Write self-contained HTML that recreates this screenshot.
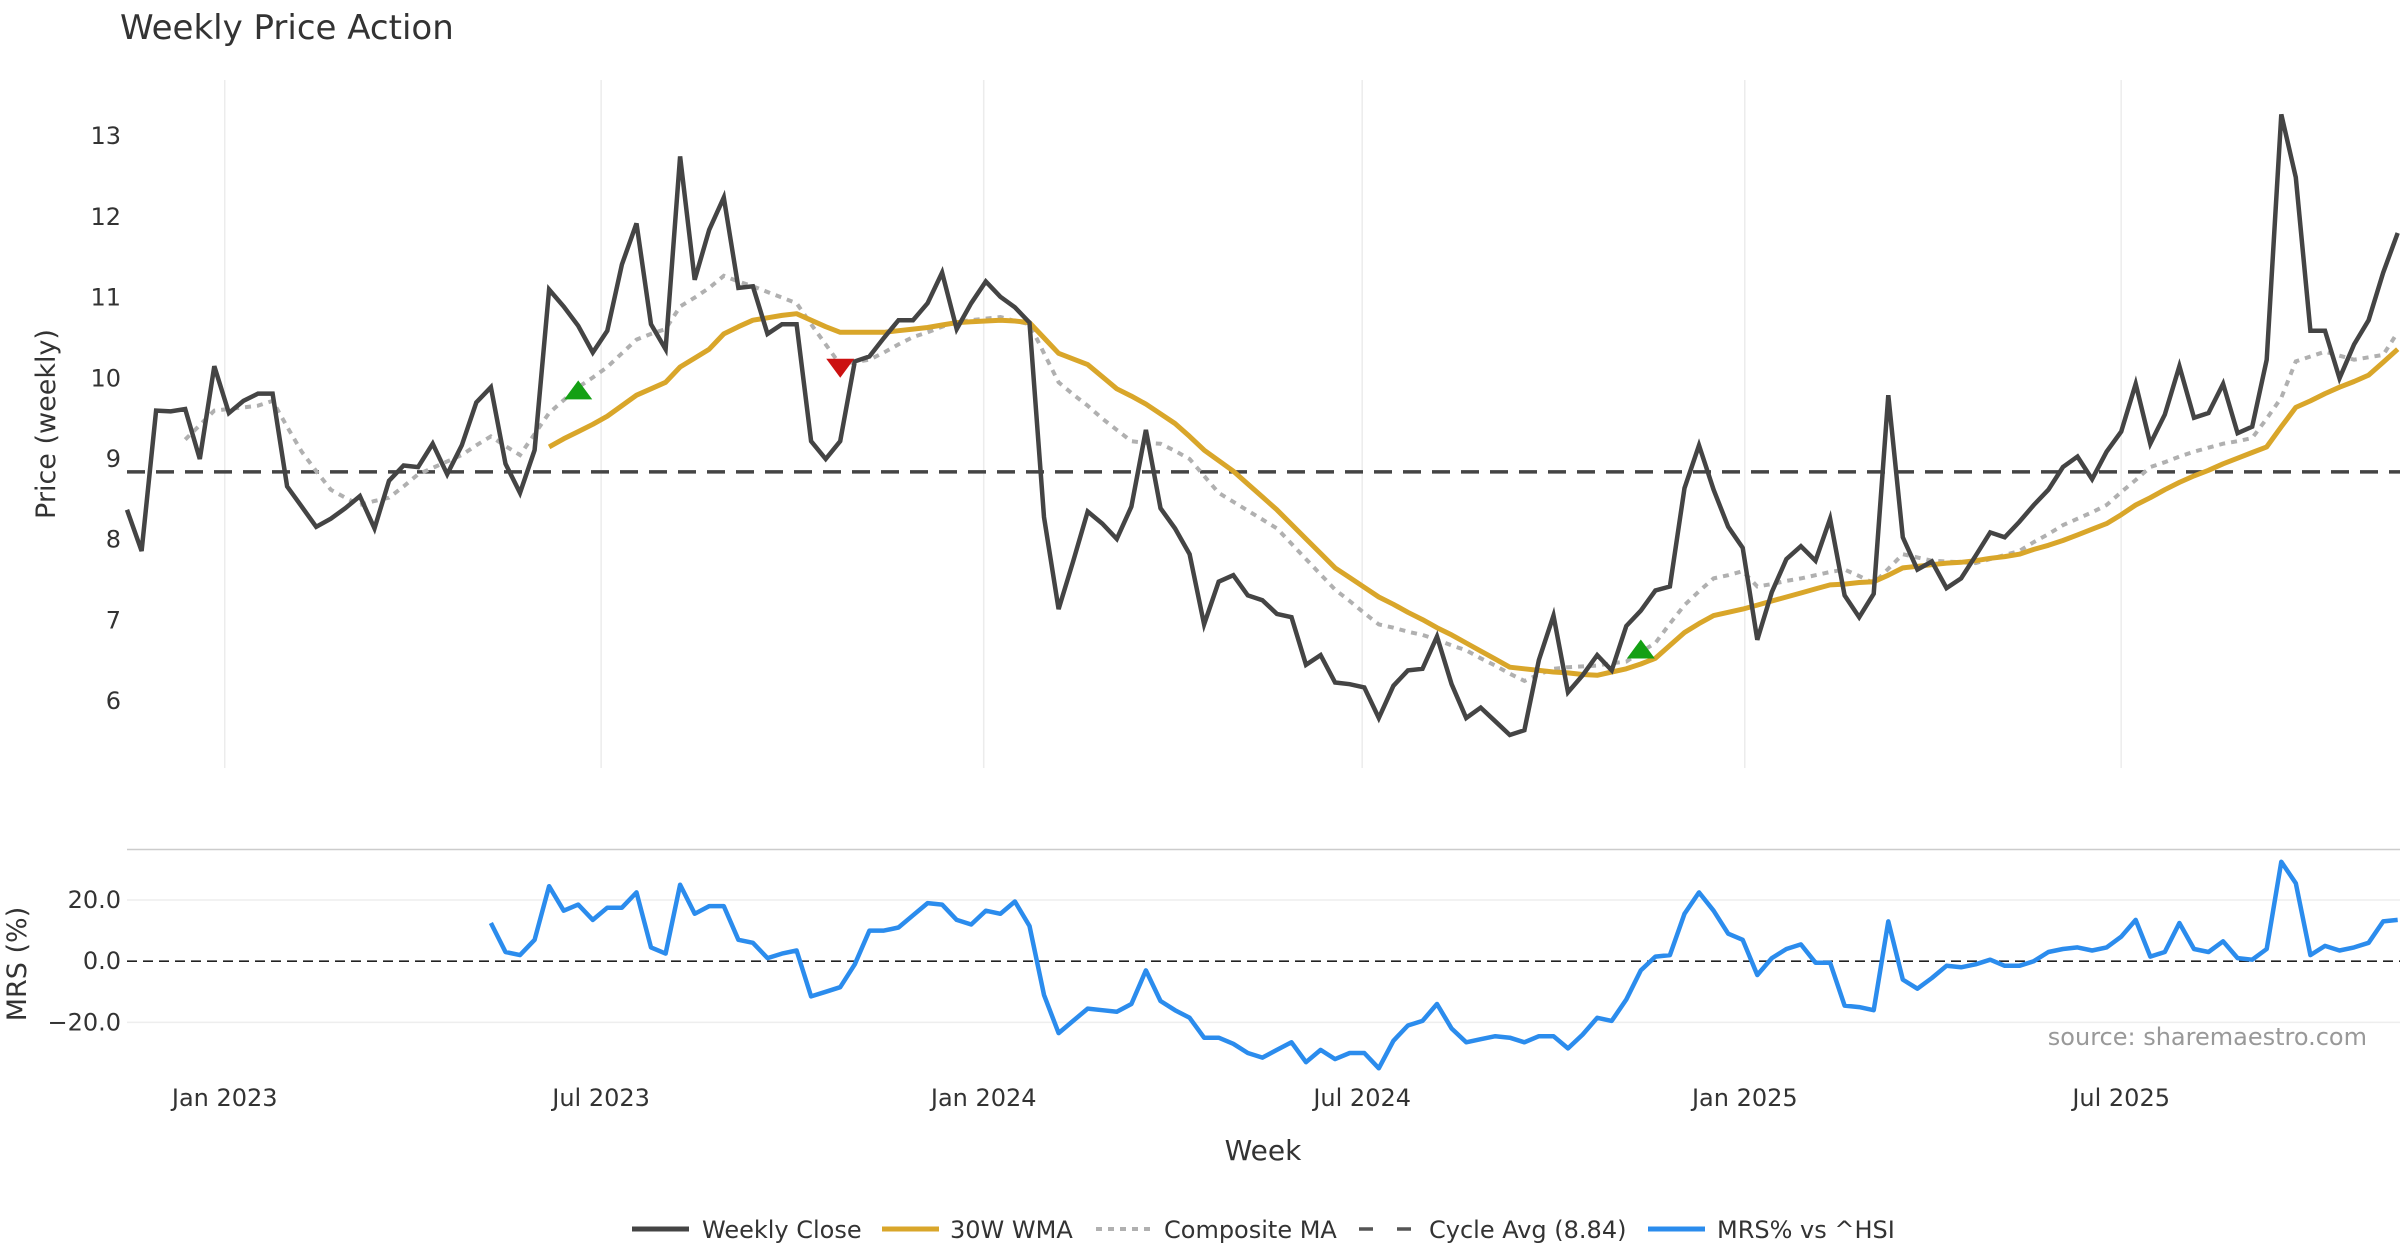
<!DOCTYPE html>
<html><head><meta charset="utf-8"><style>
html,body{margin:0;padding:0;background:#fff;}
svg{display:block;font-family:"DejaVu Sans","Liberation Sans",sans-serif;}
</style></head><body>
<svg id="chart" width="2400" height="1260" viewBox="0 0 2400 1260" xmlns="http://www.w3.org/2000/svg">
<rect width="2400" height="1260" fill="#fff"/>
<text x="120" y="39" font-size="34" fill="#333">Weekly Price Action</text>
<g id="priceGrid"></g>
<g id="mrsGrid"></g>
<line x1="127" x2="2400" y1="849.5" y2="849.5" stroke="#ccc" stroke-width="1.5"/>
<g id="marks"></g>
<g id="axes"></g>
<text transform="translate(55,424) rotate(-90)" text-anchor="middle" font-size="27" fill="#333">Price (weekly)</text>
<text transform="translate(26,964) rotate(-90)" text-anchor="middle" font-size="27" fill="#333">MRS (%)</text>
<text x="1263" y="1160" text-anchor="middle" font-size="28" fill="#333">Week</text>
<text x="2367" y="1045" text-anchor="end" font-size="24" fill="#999">source: sharemaestro.com</text>
<g id="legend"></g>
</svg>
<script>
const startDate = new Date(2022, 10, 15);
const closeValues = [8.37,7.86,9.60,9.59,9.62,9.00,10.15,9.57,9.72,9.81,9.81,8.66,8.41,8.16,8.26,8.39,8.54,8.14,8.73,8.92,8.90,9.19,8.81,9.17,9.70,9.89,8.94,8.58,9.11,11.10,10.89,10.65,10.32,10.59,11.41,11.92,10.67,10.36,12.75,11.22,11.84,12.24,11.12,11.14,10.55,10.67,10.67,9.22,9.00,9.22,10.21,10.27,10.50,10.72,10.72,10.93,11.31,10.61,10.93,11.20,11.01,10.88,10.69,8.28,7.14,7.73,8.35,8.20,8.01,8.41,9.36,8.39,8.14,7.82,6.95,7.48,7.56,7.31,7.25,7.08,7.04,6.45,6.57,6.23,6.21,6.17,5.79,6.19,6.38,6.40,6.80,6.21,5.79,5.92,5.75,5.58,5.64,6.51,7.06,6.11,6.32,6.57,6.38,6.93,7.12,7.37,7.42,8.64,9.17,8.62,8.16,7.90,6.76,7.35,7.76,7.92,7.74,8.26,7.31,7.04,7.33,9.79,8.03,7.63,7.73,7.40,7.52,7.80,8.09,8.03,8.22,8.43,8.62,8.90,9.03,8.75,9.09,9.34,9.93,9.19,9.55,10.15,9.51,9.57,9.93,9.32,9.40,10.23,13.27,12.49,10.59,10.59,10.00,10.42,10.72,11.31,11.80];
const wmaStart = 29;
const wmaValues = [9.15,9.25,9.34,9.43,9.53,9.66,9.79,9.87,9.95,10.14,10.25,10.36,10.55,10.64,10.72,10.75,10.78,10.80,10.72,10.64,10.57,10.57,10.57,10.57,10.59,10.61,10.63,10.66,10.69,10.70,10.71,10.72,10.71,10.69,10.50,10.31,10.24,10.17,10.02,9.87,9.78,9.68,9.56,9.44,9.28,9.11,8.98,8.85,8.69,8.53,8.37,8.19,8.01,7.83,7.65,7.53,7.41,7.29,7.20,7.10,7.01,6.91,6.82,6.72,6.62,6.52,6.42,6.40,6.38,6.36,6.35,6.33,6.32,6.36,6.40,6.46,6.53,6.69,6.85,6.96,7.06,7.10,7.14,7.19,7.24,7.29,7.34,7.39,7.44,7.45,7.47,7.48,7.56,7.65,7.67,7.69,7.71,7.72,7.74,7.77,7.79,7.82,7.88,7.93,7.99,8.06,8.13,8.20,8.31,8.43,8.52,8.62,8.71,8.79,8.86,8.94,9.01,9.08,9.15,9.40,9.64,9.72,9.81,9.89,9.96,10.04,10.20,10.36];
const compStart = 4;
const compValues = [9.24,9.42,9.60,9.62,9.64,9.66,9.72,9.40,9.09,8.85,8.62,8.52,8.43,8.48,8.52,8.66,8.81,8.89,8.97,9.05,9.17,9.28,9.16,9.05,9.31,9.57,9.73,9.89,10.01,10.14,10.31,10.48,10.55,10.61,10.89,11.00,11.12,11.27,11.20,11.14,11.07,11.00,10.93,10.67,10.42,10.17,10.20,10.23,10.32,10.42,10.51,10.57,10.64,10.70,10.72,10.74,10.76,10.71,10.67,10.31,9.95,9.80,9.66,9.50,9.36,9.22,9.20,9.19,9.10,9.00,8.79,8.58,8.47,8.36,8.25,8.14,7.95,7.76,7.57,7.38,7.24,7.09,6.95,6.91,6.86,6.82,6.76,6.69,6.63,6.53,6.44,6.34,6.25,6.33,6.40,6.42,6.43,6.44,6.47,6.49,6.61,6.72,6.96,7.19,7.36,7.52,7.56,7.61,7.42,7.45,7.49,7.52,7.56,7.60,7.63,7.55,7.46,7.64,7.82,7.78,7.74,7.73,7.72,7.71,7.76,7.81,7.86,7.97,8.07,8.18,8.26,8.34,8.43,8.59,8.74,8.90,8.96,9.03,9.09,9.14,9.19,9.22,9.26,9.50,9.76,10.21,10.27,10.33,10.28,10.23,10.26,10.29,10.57];
const mrsStart = 25;
const mrsValues = [12.5,3,2,7,24.5,16.5,18.5,13.5,17.5,17.5,22.5,4.5,2.5,25,15.5,18,18,7,6,1,2.5,3.5,-11.5,-10,-8.5,-1,10,10,11,15,19,18.5,13.5,12,16.5,15.5,19.5,11.5,-11,-23.5,-19.5,-15.5,-16,-16.5,-14,-3,-13,-16,-18.5,-25,-25,-27,-30,-31.5,-29,-26.5,-33,-29,-32,-30,-30,-35,-26,-21,-19.5,-14,-22,-26.5,-25.5,-24.5,-25,-26.5,-24.5,-24.5,-28.5,-24,-18.5,-19.5,-12.5,-3,1.5,2,15.5,22.5,16.5,9,7,-4.5,1,4,5.5,-0.5,-0.5,-14.5,-15,-16,13,-6,-9,-5.5,-1.5,-2,-1,0.5,-1.5,-1.5,0,3,4,4.5,3.5,4.5,8,13.5,1.5,3,12.5,4,3,6.5,1,0.5,4,32.5,25.5,2,5,3.5,4.5,6,13,13.5];
const cycleAvg = 8.84;
const buyWeeks = [31, 104];
const buyValues = [9.85, 6.64];
const sellWeeks = [49];
const sellValues = [10.13];
const priceTicks = [6,7,8,9,10,11,12,13];
const mrsTicks = [-20,0,20];
const mrsTickLabels = ["\u221220.0","0.0","20.0"];
const dateTicks = ["2023-01-01","2023-07-01","2024-01-01","2024-07-01","2025-01-01","2025-07-01"];
const dateTickLabels = ["Jan 2023","Jul 2023","Jan 2024","Jul 2024","Jan 2025","Jul 2025"];

const NS = "http://www.w3.org/2000/svg";
const X0 = 127, STEP = 14.556;
function xScale(i){ return X0 + i*STEP; }
function yPrice(v){ return 136.2 + (13 - v)*80.7; }
function yMrs(v){ return 961.2 - v*3.06; }
function dateIdx(s){ const p=s.split('-'); const d=new Date(+p[0],+p[1]-1,+p[2]); return (d-startDate)/86400000/7; }
function mk(tag, attrs, parent){ const e=document.createElementNS(NS,tag); for(const k in attrs) e.setAttribute(k,attrs[k]); parent.appendChild(e); return e; }
function pathFrom(vals, start, ys){ return vals.map((v,j)=>(j?'L':'M')+xScale(start+j).toFixed(1)+','+ys(v).toFixed(1)).join(''); }

const pg=document.getElementById('priceGrid'), mg=document.getElementById('mrsGrid'), marks=document.getElementById('marks'), axes=document.getElementById('axes');
dateTicks.forEach((d,k)=>{
  const x=xScale(dateIdx(d));
  const g=mk('line',{x1:x,x2:x,y1:80,y2:768,stroke:'#ececec','stroke-width':1.5},pg);
  
  
  const t=mk('text',{x:x,y:1106,'text-anchor':'middle','font-size':24,fill:'#333'},axes);
  
  
  t.textContent=dateTickLabels[k];
});
priceTicks.forEach(v=>{
  const t=mk('text',{x:121,y:yPrice(v)+8,'text-anchor':'end','font-size':24,fill:'#333'},axes);
  
  
  t.textContent=String(v);
});
mrsTicks.forEach((v,k)=>{
  if(v!==0){ const g=mk('line',{x1:127,x2:2400,y1:yMrs(v),y2:yMrs(v),stroke:'#eeeeee','stroke-width':1.5},mg);
    
     }
  const t=mk('text',{x:121,y:yMrs(v)+8,'text-anchor':'end','font-size':24,fill:'#333'},axes);
  
  
  t.textContent=mrsTickLabels[k];
});
const zl=mk('line',{x1:127,x2:2400,y1:yMrs(0),y2:yMrs(0),stroke:'#222','stroke-width':1.6,'stroke-dasharray':'10 6'},mg);



const ca=mk('line',{x1:127,x2:2400,y1:yPrice(cycleAvg),y2:yPrice(cycleAvg),stroke:'#444','stroke-width':3.5,'stroke-dasharray':'18 11'},marks);


const cm=mk('path',{d:pathFrom(compValues,compStart,yPrice),fill:'none',stroke:'#b0b0b0','stroke-width':4,'stroke-dasharray':'6 6'},marks);


const wm=mk('path',{d:pathFrom(wmaValues,wmaStart,yPrice),fill:'none',stroke:'#d9a62a','stroke-width':5,'stroke-linejoin':'round'},marks);


const cl=mk('path',{d:pathFrom(closeValues,0,yPrice),fill:'none',stroke:'#444','stroke-width':4.5,'stroke-linejoin':'miter'},marks);


const ml=mk('path',{d:pathFrom(mrsValues,mrsStart,yMrs),fill:'none',stroke:'#2b8ced','stroke-width':4.5,'stroke-linejoin':'round'},marks);


buyWeeks.forEach((w,k)=>{
  const x=xScale(w), y=yPrice(buyValues[k]);
  const p=mk('polygon',{points:`${x-14},${y+9} ${x+14},${y+9} ${x},${y-10}`,fill:'#14a014'},marks);
  
  
});
sellWeeks.forEach((w,k)=>{
  const x=xScale(w), y=yPrice(sellValues[k]);
  const p=mk('polygon',{points:`${x-14},${y-9} ${x+14},${y-9} ${x},${y+10}`,fill:'#cc1111'},marks);
  
  
});

const lg=document.getElementById('legend');
const items=[
 {x:632,t:702,label:'Weekly Close',stroke:'#444',dash:'',w:5},
 {x:882,t:950,label:'30W WMA',stroke:'#d9a62a',dash:'',w:5},
 {x:1096,t:1164,label:'Composite MA',stroke:'#b0b0b0',dash:'6 6',w:4},
 {x:1359,t:1429,label:'Cycle Avg (8.84)',stroke:'#555',dash:'14 24',w:3.5},
 {x:1648,t:1717,label:'MRS% vs ^HSI',stroke:'#2b8ced',dash:'',w:5}
];
items.forEach(it=>{
  const l=mk('line',{x1:it.x,x2:it.x+57,y1:1229,y2:1229,stroke:it.stroke,'stroke-width':it.w,'stroke-dasharray':it.dash},lg);
  
  
  const t=mk('text',{x:it.t,y:1238,'font-size':24,fill:'#333'},lg);
  
  
  t.textContent=it.label;
});
</script>
</body></html>
